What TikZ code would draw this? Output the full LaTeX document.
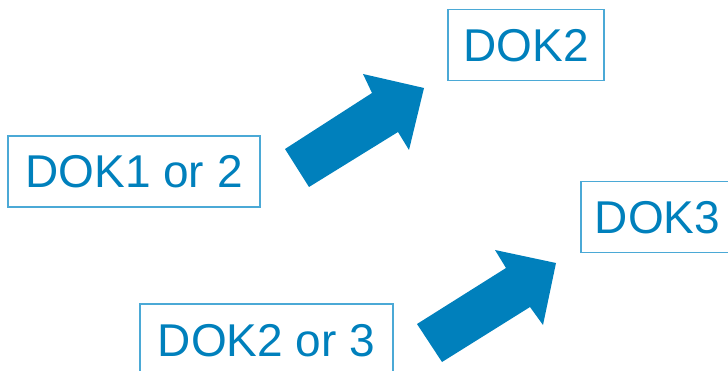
\documentclass[tikz,border=0pt]{standalone}
\usepackage{fontspec}
\setmainfont{Liberation Sans}
\usetikzlibrary{positioning}
\definecolor{DokBlue}{HTML}{0080BC}
\definecolor{DokLine}{HTML}{4BA9D6}

\begin{document}
\begin{tikzpicture}[x=1pt,y=-1pt,
  every node/.style={font=\fontsize{46}{50}\selectfont,text=DokBlue},
  dok/.style={draw=DokLine,line width=1.3pt,minimum height=71pt,text height=33pt,text depth=0pt,inner xsep=0pt},
  bigarrow/.style={fill=DokBlue}
]
\useasboundingbox (0,0) rectangle (728,371);
\clip (0,0) rectangle (728,371);

\node[dok,minimum width=252pt] (dokA) at (134,171.5) {DOK1 or 2};
\node[dok,minimum width=156pt] (dokB) at (526,45) {DOK2};
\node[dok,minimum width=153pt] (dokC) at (657.5,217) {DOK3};
\node[dok,minimum width=253pt] (dokD) at (266.5,339.5) {DOK2 or 3};

% block arrows
\fill[bigarrow] (285,149) -- (372,93) -- (363,74) -- (424,88) -- (409,150) -- (398,132) -- (309,187) -- cycle;
\fill[bigarrow] (417,324) -- (506,268) -- (495,250) -- (556,263) -- (543,325) -- (530,307) -- (442,362) -- cycle;
\end{tikzpicture}
\end{document}
